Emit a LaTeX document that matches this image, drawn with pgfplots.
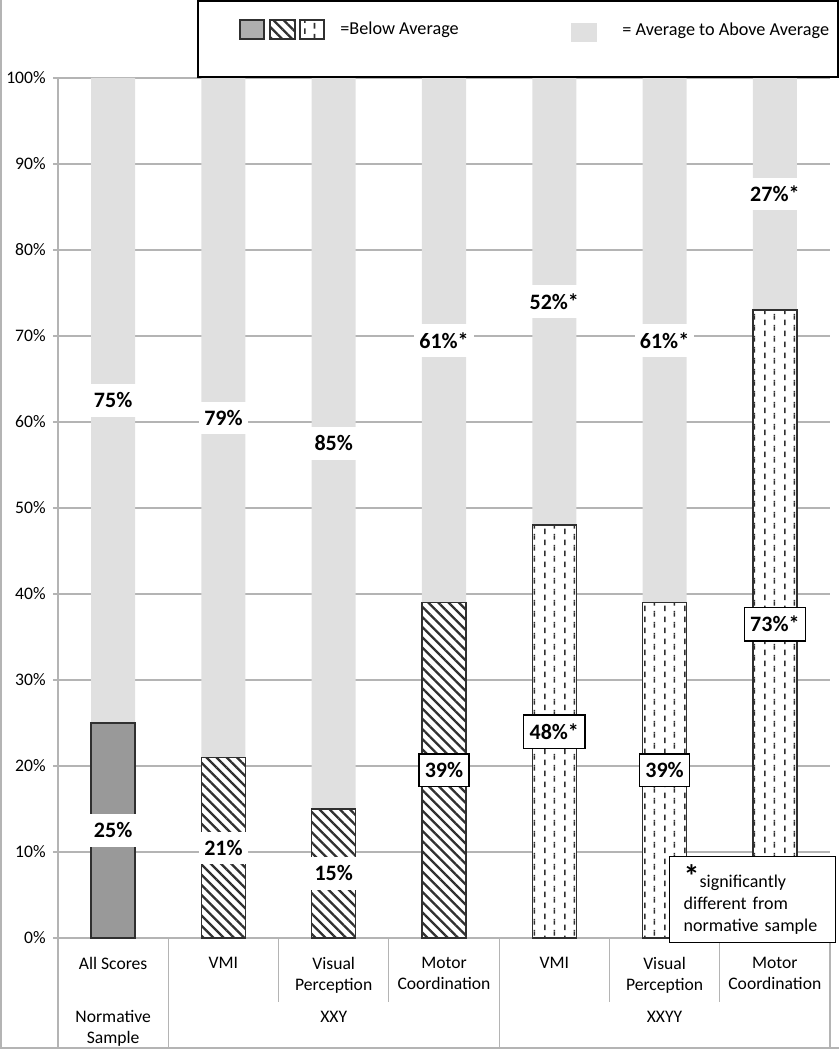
\documentclass[border=0pt]{standalone}
\usepackage{fontspec}
\setmainfont{Carlito}
\usepackage{pgfplots}
\pgfplotsset{compat=1.18}
\usepackage{pgfplotstable}
\usetikzlibrary{patterns,patterns.meta}

\definecolor{upper}{HTML}{E0E0E0}
\definecolor{normgray}{HTML}{999999}
\definecolor{leggray}{HTML}{AFAFAF}
\definecolor{gridgray}{HTML}{B4B4B4}
\definecolor{edge}{HTML}{303030}

\pgfdeclarepatternformonly{vdashes}{\pgfpointorigin}{\pgfpoint{10pt}{5.4pt}}{\pgfpoint{10pt}{5.4pt}}{%
  \pgfsetlinewidth{0.8pt}%
  \pgfpathmoveto{\pgfpoint{2.5pt}{0.5pt}}%
  \pgfpathlineto{\pgfpoint{2.5pt}{3.3pt}}%
  \pgfpathmoveto{\pgfpoint{7.5pt}{3.2pt}}%
  \pgfpathlineto{\pgfpoint{7.5pt}{5.4pt}}%
  \pgfpathmoveto{\pgfpoint{7.5pt}{0pt}}%
  \pgfpathlineto{\pgfpoint{7.5pt}{0.6pt}}%
  \pgfusepath{stroke}}

\pgfplotstableread{
x below above total
0 25 75 100
1 21 79 100
2 15 85 100
3 39 61 100
4 48 52 100
5 39 61 100
6 73 27 100
}\bars

\pgfplotstableread{
x y lab
0 12.5 25\%
0 62.5 75\%
1 10.5 21\%
1 60.5 79\%
2 7.5 15\%
2 57.5 85\%
3 69.5 61\%*
4 74 52\%*
5 69.5 61\%*
6 86.5 27\%*
}\plainlabels

\pgfplotstableread{
x y lab
3 19.5 39\%
4 24 48\%*
5 19.5 39\%
6 36.5 73\%*
}\boxlabels

\begin{document}
\begin{tikzpicture}[x=1pt,y=1pt]
\path[use as bounding box] (0,0) rectangle (419.5,525);
\begin{axis}[
  at={(29pt,56pt)}, anchor=south west,
  scale only axis, width=386pt, height=430pt,
  xmin=-0.5, xmax=6.5, ymin=0, ymax=100,
  axis x line*=bottom, axis y line*=left,
  axis line style={draw=gridgray, line width=0.6pt, -},
  ytick={0,10,...,100},
  yticklabel={\pgfmathprintnumber{\tick}\%},
  ymajorgrids, grid style={draw=gridgray, line width=0.6pt},
  tick align=outside, major tick length=2.5pt,
  ytick style={draw=gridgray, line width=0.6pt},
  xtick={0,...,6},
  xtick style={draw=none},
  xticklabels={All Scores, VMI, {Visual\\Perception}, {Motor\\Coordination}, VMI, {Visual\\Perception}, {Motor\\Coordination}},
  xticklabel style={align=center, anchor=north, inner sep=0pt, yshift=-7pt, font=\fontsize{8.8}{10.5}\selectfont},
  yticklabel style={anchor=east, inner sep=0pt, xshift=-3.5pt, font=\fontsize{8.8}{10.5}\selectfont},
  /pgf/number format/assume math mode=true,
  clip=false,
]
\addplot[ybar, bar width=22pt, bar shift=0pt, fill=upper, draw=none] table[x=x, y=total]{\bars};
\addplot[ybar, bar width=22pt, bar shift=0pt, fill=normgray, draw=edge, line width=0.75pt,
  restrict x to domain=-0.1:0.1] table[x=x, y=below]{\bars};
\addplot[ybar, bar width=22pt, bar shift=0pt, preaction={fill=white},
  pattern={Lines[angle=-45,distance=3.6pt,line width=1.15pt]}, pattern color=edge,
  draw=edge, line width=0.75pt, restrict x to domain=0.5:3.5] table[x=x, y=below]{\bars};
\addplot[ybar, bar width=22pt, bar shift=0pt, preaction={fill=white},
  pattern=vdashes, pattern color=edge,
  draw=edge, line width=0.75pt, restrict x to domain=3.5:6.5] table[x=x, y=below]{\bars};

\addplot[draw=none, no marks, nodes near coords, point meta=explicit symbolic,
  nodes near coords align={center},
  every node near coord/.append style={font=\bfseries\fontsize{11}{12}\selectfont, fill=white, inner xsep=2.6pt, inner ysep=4.2pt, text=black}]
  table[x=x, y=y, meta=lab]{\plainlabels};
\addplot[draw=none, no marks, nodes near coords, point meta=explicit symbolic,
  nodes near coords align={center},
  every node near coord/.append style={font=\bfseries\fontsize{11}{12}\selectfont, fill=white, draw=black, line width=0.7pt, inner xsep=3pt, inner ysep=4.4pt, text=black}]
  table[x=x, y=y, meta=lab]{\boxlabels};

% category frame
\draw[gridgray, line width=0.6pt] (axis cs:0.5,0) -- ++(0pt,-55pt);
\draw[gridgray, line width=0.6pt] (axis cs:3.5,0) -- ++(0pt,-55pt);
\draw[gridgray, line width=0.6pt] (axis cs:6.5,0) -- ++(0pt,-55pt);
\draw[gridgray, line width=0.6pt] (axis cs:1.5,0) -- ++(0pt,-32pt);
\draw[gridgray, line width=0.6pt] (axis cs:2.5,0) -- ++(0pt,-32pt);
\draw[gridgray, line width=0.6pt] (axis cs:4.5,0) -- ++(0pt,-32pt);
\draw[gridgray, line width=0.6pt] (axis cs:5.5,0) -- ++(0pt,-32pt);
\node[anchor=north, align=center, inner sep=0pt, font=\fontsize{8.8}{10.5}\selectfont, yshift=-36.2pt] at (axis cs:0,0) {Normative\\Sample};
\node[anchor=north, align=center, inner sep=0pt, font=\fontsize{8.8}{10.5}\selectfont, yshift=-36.2pt] at (axis cs:2,0) {XXY};
\node[anchor=north, align=center, inner sep=0pt, font=\fontsize{8.8}{10.5}\selectfont, yshift=-36.2pt] at (axis cs:5,0) {XXYY};
\end{axis}

% y axis extension and outer frame
\draw[gridgray, line width=0.6pt] (29,56) -- (29,1);
\draw[gridgray, line width=0.8pt] (0.5,525) -- (0.5,1) -- (419.5,1);

% legend
\draw[black, line width=1pt] (99,486.5) rectangle (418.8,524.5);
\draw[edge, line width=0.6pt, fill=leggray] (120,505.5) rectangle (132,515);
\draw[edge, line width=0.6pt, preaction={fill=white}, pattern={Lines[angle=-45,distance=3.6pt,line width=1.15pt]}, pattern color=edge] (135,505.5) rectangle (147.5,515);
\draw[edge, line width=0.6pt, preaction={fill=white}, pattern=vdashes, pattern color=edge] (150,505.5) rectangle (162,515);
\node[anchor=west, inner sep=0pt, font=\fontsize{9.1}{11}\selectfont] at (170,510) {=Below Average};
\fill[upper] (285.5,504) rectangle (298.5,513.5);
\node[anchor=west, inner sep=0pt, font=\fontsize{9.1}{11}\selectfont] at (311,509.5) {= Average to Above Average};

% significance note
\node[draw=black, line width=0.7pt, fill=white, anchor=north west, align=left,
  text width=69pt, inner xsep=7pt, inner ysep=4pt, minimum height=40.5pt,
  font=\fontsize{9}{11}\selectfont] at (334.5,97)
  {{\bfseries\fontsize{16}{11}\selectfont *}significantly\\different from\\normative sample};
\end{tikzpicture}
\end{document}
